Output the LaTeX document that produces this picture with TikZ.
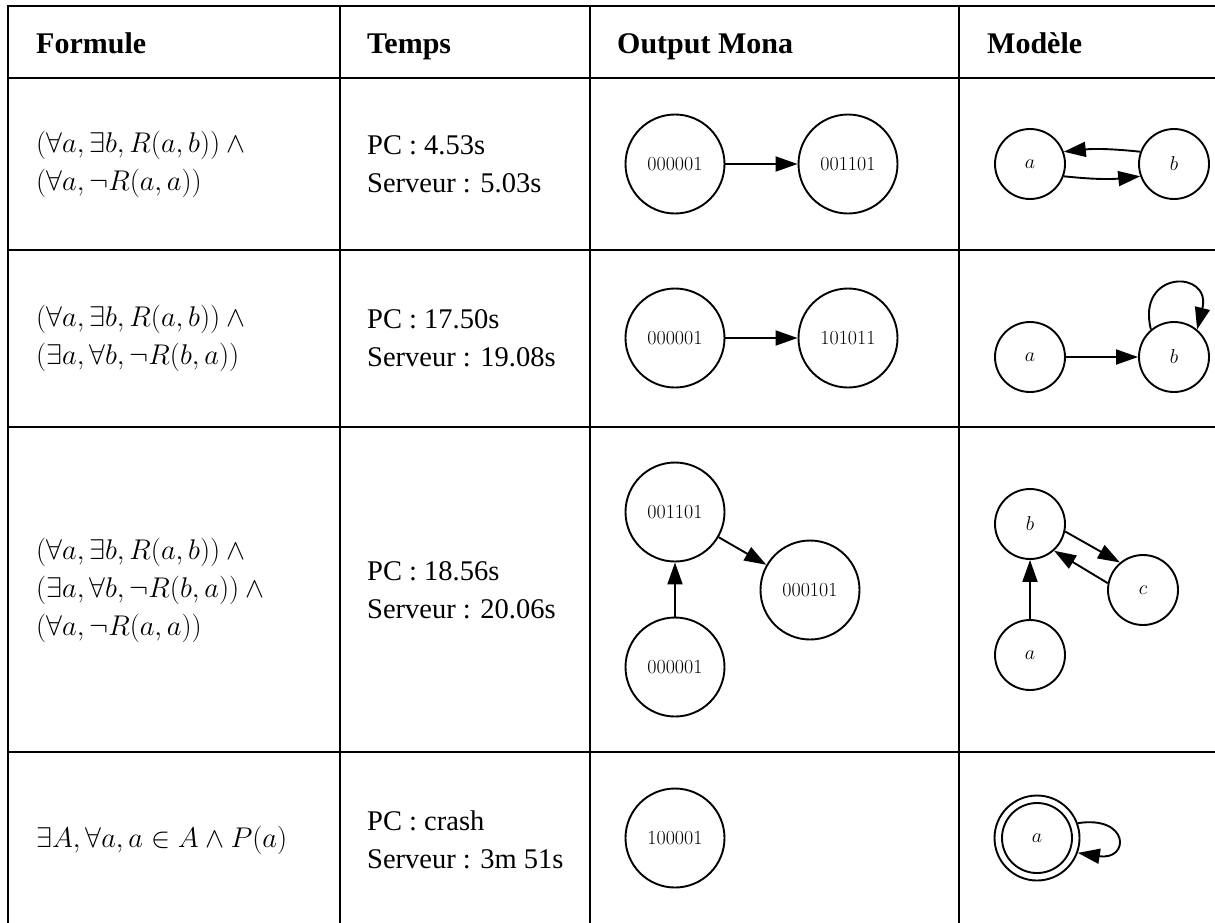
\RequirePackage{fix-cm}
\documentclass[tikz,border=0pt]{standalone}
\usepackage[no-math]{fontspec}
\setmainfont{Liberation Serif}
\usetikzlibrary{arrows.meta}
\begin{document}
\begin{tikzpicture}[x=1pt,y=1pt,
  grid/.style={line width=2.6pt},
  mona/.style={circle,draw,line width=1.9pt,minimum size=99pt,inner sep=0pt,font=\fontsize{20}{24}\selectfont},
  modl/.style={circle,draw,line width=1.9pt,minimum size=70pt,inner sep=0pt,font=\fontsize{20}{24}\selectfont},
  ring/.style={circle,draw,line width=1.9pt,minimum size=85pt,inner sep=0pt},
  edge/.style={line width=1.9pt,-{Triangle[length=22pt,width=15pt]}},
  head/.style={anchor=base west,inner sep=0pt,font=\fontsize{30}{36}\selectfont\bfseries},
  cell/.style={anchor=west,inner sep=0pt,align=left,font=\fontsize{28.5}{38}\selectfont},
]
\useasboundingbox (0,0) rectangle (1215,-922);
\clip (0,0) rectangle (1215,-922);
\fill[white] (0,0) rectangle (1215,-922);

% table grid
\draw[grid] (8,-940) -- (8,-6) -- (1230,-6);
\draw[grid] (8,-78) -- (1230,-78);
\draw[grid] (8,-250) -- (1230,-250);
\draw[grid] (8,-427) -- (1230,-427);
\draw[grid] (8,-752) -- (1230,-752);
\draw[grid] (340,-6) -- (340,-940);
\draw[grid] (590,-6) -- (590,-940);
\draw[grid] (959,-6) -- (959,-940);

% header
\node[head] (h1) at (36,-53) {Formule};
\node[head] (h2) at (367,-53) {Temps};
\node[head] (h3) at (617,-53) {Output Mona};
\node[head] (h4) at (987,-53) {Modèle};

% row 1
\node[cell] (f1) at (36,-164) {$(\forall a, \exists b, R(a,b)) \wedge {}$\\$(\forall a, \neg R(a,a))$};
\node[cell] (t1) at (367,-164) {PC : 4.53s\\Serveur : 5.03s};
\node[mona] (m1a) at (675,-164) {$000001$};
\node[mona] (m1b) at (848,-164) {$001101$};
\draw[edge] (m1a) -- (m1b);
\node[modl] (a1) at (1030,-164) {$a$};
\node[modl] (b1) at (1174,-164) {$b$};
\draw[edge] (a1.-20) to[bend right=6] (b1.-160);
\draw[edge] (b1.160) to[bend right=6] (a1.20);

% row 2
\node[cell] (f2) at (36,-338) {$(\forall a, \exists b, R(a,b)) \wedge {}$\\$(\exists a, \forall b, \neg R(b,a))$};
\node[cell] (t2) at (367,-338) {PC : 17.50s\\Serveur : 19.08s};
\node[mona] (m2a) at (675,-338) {$000001$};
\node[mona] (m2b) at (848,-338) {$101011$};
\draw[edge] (m2a) -- (m2b);
\node[modl] (a2) at (1030,-357) {$a$};
\node[modl] (b2) at (1174,-357) {$b$};
\draw[edge] (a2) -- (b2);
\draw[edge] (b2.130) .. controls +(-15,60) and +(15,60) .. (b2.50);

% row 3
\node[cell] (f3) at (36,-590) {$(\forall a, \exists b, R(a,b)) \wedge {}$\\$(\exists a, \forall b, \neg R(b,a)) \wedge {}$\\$(\forall a, \neg R(a,a))$};
\node[cell] (t3) at (367,-590) {PC : 18.56s\\Serveur : 20.06s};
\node[mona] (m3a) at (675,-512) {$001101$};
\node[mona] (m3b) at (810,-590) {$000101$};
\node[mona] (m3c) at (675,-667) {$000001$};
\draw[edge] (m3c) -- (m3a);
\draw[edge] (m3a) -- (m3b);
\node[modl] (b3) at (1030,-524) {$b$};
\node[modl] (c3) at (1143,-590) {$c$};
\node[modl] (a3) at (1030,-655) {$a$};
\draw[edge] (a3) -- (b3);
\draw[edge] (b3.-12) -- (c3.130);
\draw[edge] (c3.169) -- (b3.-48);

% row 4
\node[cell] (f4) at (36,-840) {$\exists A, \forall a, a \in A \wedge P(a)$};
\node[cell] (t4) at (367,-840) {PC : crash\\Serveur : 3m 51s};
\node[mona] (m4) at (675,-838) {$100001$};
\node[modl] (a4) at (1037,-838) {$a$};
\node[ring] (a4o) at (1037,-838) {};
\draw[edge] (a4o.20) .. controls +(52,8) and +(52,-8) .. (a4o.-20);
\end{tikzpicture}
\end{document}
